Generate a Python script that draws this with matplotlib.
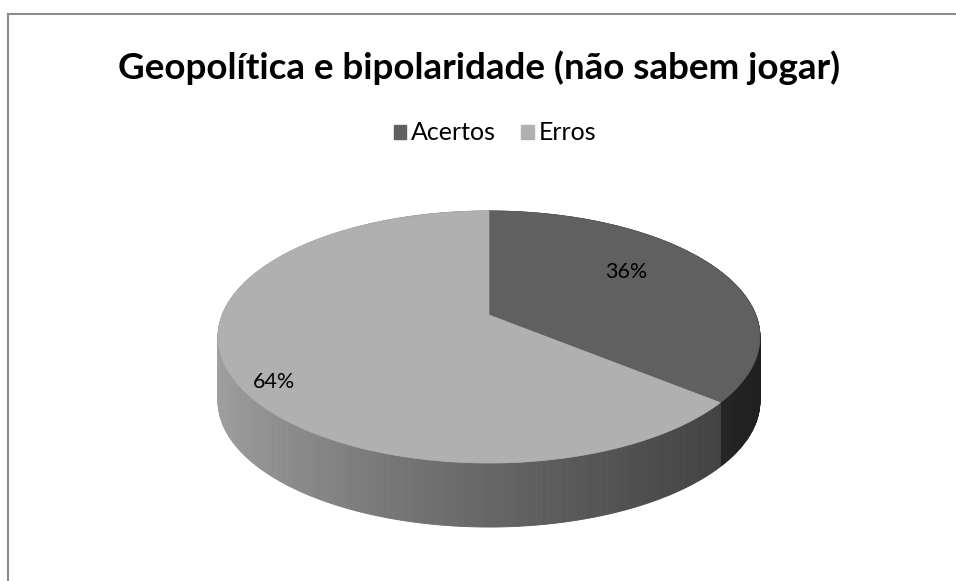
import matplotlib
matplotlib.use('Agg')
import matplotlib.pyplot as plt
import numpy as np
from matplotlib.lines import Line2D

plt.rcParams['font.family'] = ['Lato', 'DejaVu Sans']

title = 'Geopolítica e bipolaridade (não sabem jogar)'
labels = ['Acertos', 'Erros']
values = [36, 64]
top_colors = [96, 176]   # gray level of the top face of each slice

# layout of the fake 3d pie (pixels)
W, H = 956, 581
cx, cy = 489, 315
a, b, k = 266.8, 122.2, 0.1746
depth = 64
label_r = [0.66, 0.89]
label_shift = -9


def proj(theta, r=1.0):
    # theta in degrees, clockwise from 12 o'clock; simple perspective onto the screen
    t = np.radians(theta)
    u = r * np.sin(t)
    v = -r * np.cos(t)
    w = 1 - k * v
    return cx + a * u / w, cy + b * v / w


def shade(theta):
    u = np.sin(np.radians(theta))
    return 0.58 - 0.30 * u + 0.04 * u ** 2


def gray(g):
    g = min(max(g, 0), 255) / 255
    return (g, g, g)


fig = plt.figure(figsize=(W / 100, H / 100), dpi=100)
ax = fig.add_axes([0, 0, 1, 1])
ax.set_xlim(0, W)
ax.set_ylim(H, 0)
ax.axis('off')

fracs = np.array(values) / sum(values)
edges = np.concatenate([[0], np.cumsum(fracs) * 360])

# side strips
strips = []
for i in range(len(values)):
    th = np.linspace(edges[i], edges[i + 1], int((edges[i + 1] - edges[i]) * 2) + 2)
    for t0, t1 in zip(th[:-1], th[1:]):
        x0, y0 = proj(t0)
        x1, y1 = proj(t1)
        vmid = -np.cos(np.radians((t0 + t1) / 2))
        col = gray(top_colors[i] * shade((t0 + t1) / 2))
        strips.append((vmid, [x0, x1, x1, x0], [y0, y1, y1 + depth, y0 + depth], col))
strips.sort(key=lambda s: s[0])
for _, xs, ys, col in strips:
    ax.fill(xs, ys, color=col, lw=0.6, ec=col)

# top faces
for i in range(len(values)):
    th = np.linspace(edges[i], edges[i + 1], 200)
    xs, ys = proj(th)
    xs = np.concatenate([[cx], xs])
    ys = np.concatenate([[cy], ys])
    ax.fill(xs, ys, color=gray(top_colors[i]), lw=0.5, ec=gray(top_colors[i]))

# data labels
for i in range(len(values)):
    mid = (edges[i] + edges[i + 1]) / 2 + label_shift
    lx, ly = proj(mid, label_r[i])
    ax.text(lx, ly, f'{values[i]}%', ha='center', va='center', fontsize=15.5, color='black')

# title and legend
ax.text(W / 2 + 1, 68, title, ha='center', va='center', fontsize=26.5, fontweight='bold')
handles = [plt.Rectangle((0, 0), 1, 1, color=gray(c)) for c in top_colors]
fig.legend(handles, labels, loc='center', bbox_to_anchor=(495 / W, 1 - 133 / H), ncol=2,
           frameon=False, fontsize=18, handlelength=0.5, handleheight=0.5,
           handletextpad=0.2, columnspacing=1.0)

# chart frame (only left and top edges are visible in the crop)
fig.add_artist(Line2D([8 / W, 8 / W], [0, 1 - 14 / H], color='#8c8c8c', lw=1.5))
fig.add_artist(Line2D([8 / W, 1], [1 - 14 / H, 1 - 14 / H], color='#8c8c8c', lw=1.5))

fig.savefig('out.png', dpi=100)
